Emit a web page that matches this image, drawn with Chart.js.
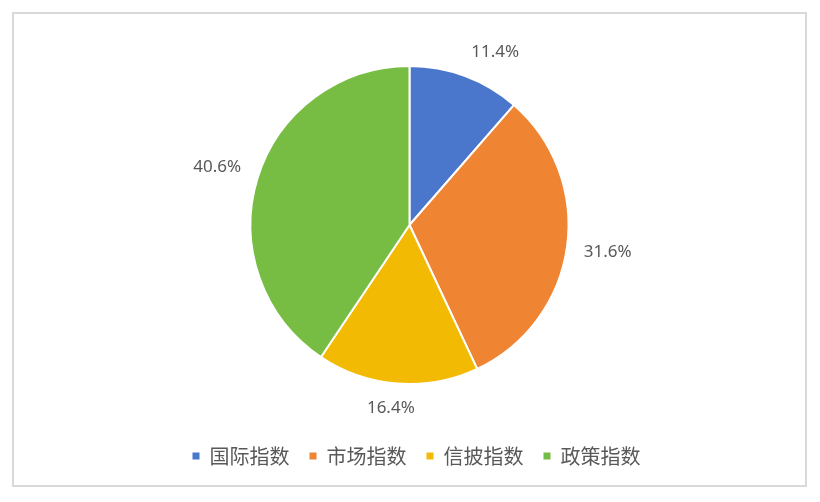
<!DOCTYPE html>
<html>
<head>
<meta charset="utf-8">
<script src="https://cdn.jsdelivr.net/npm/chart.js@4"></script>
<style>
  html, body { margin: 0; padding: 0; background: #fff; }
  #frame {
    position: absolute; left: 12px; top: 12px;
    width: 791px; height: 471px;
    border: 2px solid #d9d9d9; background: #fff;
  }
  #wrap { position: absolute; left: 0; top: 0; width: 791px; height: 471px; }
</style>
</head>
<body>
<div id="frame"><div id="wrap"><canvas id="myChart"></canvas></div></div>
<script>
// data
var categories = ['国际指数', '市场指数', '信披指数', '政策指数'];
var shares = [11.4, 31.6, 16.4, 40.6];
var sliceColors = ['#4a76cc', '#ef8432', '#f2ba02', '#77bd43'];

// percentage labels outside each slice, anchored like office charts do
var outsideLabels = {
  id: 'outsideLabels',
  afterDatasetsDraw: function(chart) {
    var ctx = chart.ctx;
    var meta = chart.getDatasetMeta(0);
    ctx.save();
    ctx.font = '17px "Noto Sans", "DejaVu Sans", sans-serif';
    ctx.fillStyle = '#595959';
    ctx.textAlign = 'center';
    ctx.textBaseline = 'middle';
    meta.data.forEach(function(arc, i) {
      var p = arc.getProps(['x', 'y', 'startAngle', 'endAngle', 'outerRadius'], true);
      var mid = (p.startAngle + p.endAngle) / 2;
      var text = shares[i].toFixed(1) + '%';
      var w = ctx.measureText(text).width, h = 16;
      var c = Math.cos(mid), s = Math.sin(mid);
      var d = p.outerRadius + 17;
      var fx = Math.max(-1, Math.min(1, c * 3));
      var fy = Math.max(-1, Math.min(1, s * 3));
      ctx.fillText(text, p.x + c * d + fx * w / 2, p.y + s * d + fy * h / 2);
    });
    ctx.restore();
  }
};

// push the legend down, away from the pie
var legendGap = {
  id: 'legendGap',
  afterLayout: function(chart) {
    var lg = chart.legend;
    lg.top += 41; lg.bottom += 41;
    lg.left += 7; lg.right += 7;
  }
};

var ctx = document.getElementById('myChart').getContext('2d');
var chart = new Chart(ctx, {
  type: 'pie',
  data: {
    labels: categories,
    datasets: [{
      data: shares,
      backgroundColor: sliceColors,
      borderColor: '#ffffff',
      borderWidth: 2
    }]
  },
  options: {
    responsive: true,
    maintainAspectRatio: false,
    animation: false,
    layout: { padding: { top: 51, bottom: 50 } },
    plugins: {
      tooltip: { enabled: false },
      legend: {
        position: 'bottom',
        labels: {
          boxWidth: 7,
          boxHeight: 7,
          padding: 20,
          color: '#595959',
          font: { size: 20, family: '"Noto Sans CJK SC", sans-serif' },
          generateLabels: function(chart) {
            return Chart.overrides.pie.plugins.legend.labels.generateLabels(chart).map(function(l) {
              l.lineWidth = 0;
              return l;
            });
          }
        }
      }
    }
  },
  plugins: [outsideLabels, legendGap]
});
</script>
</body>
</html>
